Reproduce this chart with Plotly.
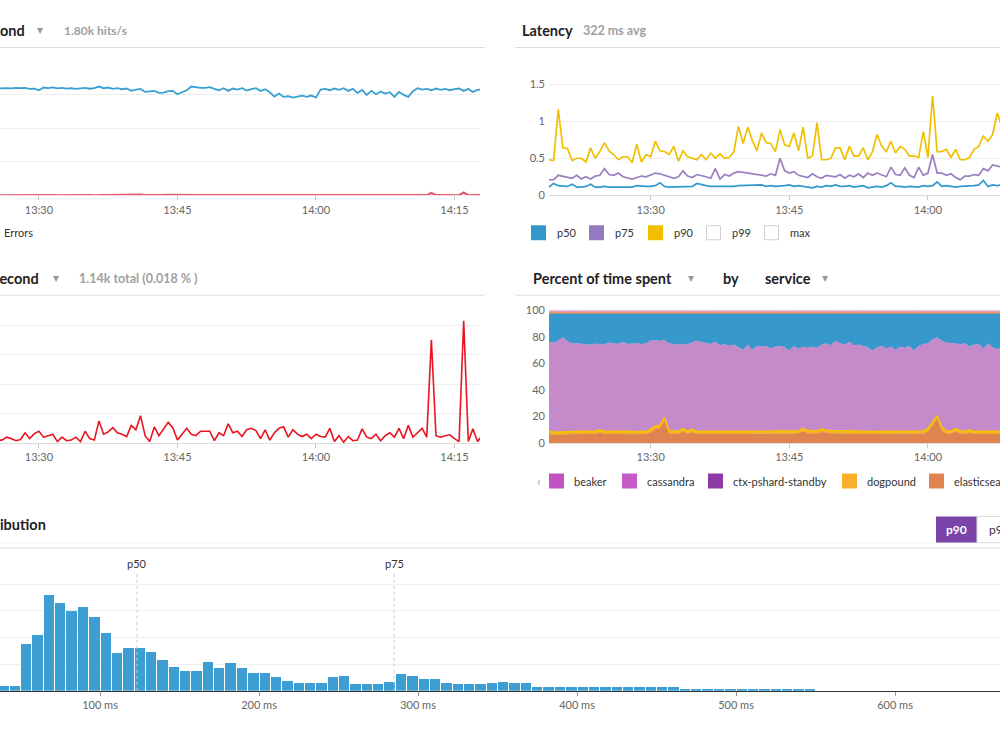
import plotly.graph_objects as go
import pandas as pd

# ---------------- data ----------------
times = pd.date_range("2017-01-01 13:19:00", periods=119, freq="30s")

requests = [1590, 1600, 1585, 1595, 1605, 1590, 1580, 1600, 1595, 1590, 1600, 1585, 1595, 1600,
            1595, 1600, 1598, 1605, 1600, 1603, 1590,
            1595, 1570, 1610, 1600, 1612, 1598, 1605,
            1595, 1602, 1590, 1600, 1605, 1592, 1600, 1625,
            1600, 1610, 1590, 1600, 1585,
            1595, 1560, 1580, 1590,
            1545, 1550, 1560, 1530, 1535, 1555,
            1560, 1510, 1545, 1570, 1625,
            1610, 1605, 1605, 1615, 1590,
            1570, 1600, 1560, 1595, 1580,
            1600, 1565, 1585, 1600, 1560,
            1585, 1540, 1475, 1520,
            1470, 1480, 1460, 1475, 1490, 1470,
            1490, 1460, 1580, 1590,
            1570, 1595, 1575, 1600, 1560, 1590,
            1530, 1575, 1500, 1560, 1510,
            1550, 1520, 1540, 1470, 1545,
            1500, 1470, 1555, 1600, 1580,
            1590, 1570, 1595, 1575, 1590,
            1570, 1585, 1595, 1560, 1590,
            1545, 1575, 1580]

errors = [2, 1, 3, 2, 1, 2, 3, 1, 2, 2, 1, 3, 2, 1,
          1.0, 2.0, 1.5, 0.8, 1.2, 3.5, 1.5, 3.2, 4.0, 2.0,
          2.5, 3.0, 0.5, 2.0, 0.8, 1.0, 2.0, 0.5, 4.0, 1.5,
          1.0, 7.5, 3.0, 3.8, 5.2, 3.5, 3.0, 2.2, 6.0, 4.5,
          9.3, 2.5, 0.5, 5.5, 2.5, 4.8, 7.0, 5.2, 1.0, 3.0,
          5.0, 3.0, 2.5, 4.0, 4.0, 4.0, 0.8, 3.5, 2.5, 6.5,
          3.5, 4.0, 2.2, 4.5, 5.0, 4.2, 1.5, 4.5, 1.0, 3.5,
          5.0, 5.5, 2.0, 4.5, 3.0, 2.2, 3.0, 1.5, 3.0, 2.2,
          2.0, 5.0, 0.5, 2.5, 0.3, 2.2, 0.8, 1.0, 4.8, 2.0,
          1.5, 3.0, 0.8, 2.5, 3.5, 2.0, 5.0, 1.5, 6.0, 2.0,
          3.5, 5.0, 2.0, 35.0, 2.5, 2.0, 2.5, 2.8, 1.5, 0.5,
          41.5, 0.5, 4.8, 0.5, 2.5]

p50 = [0.11, 0.16, 0.13, 0.13, 0.12, 0.15, 0.11, 0.11, 0.12, 0.15,
       0.11, 0.11, 0.12, 0.11, 0.11, 0.12, 0.12, 0.12, 0.11, 0.13,
       0.12, 0.12, 0.12, 0.13, 0.17, 0.12, 0.11, 0.11, 0.12, 0.11,
       0.12, 0.12, 0.16, 0.14, 0.13, 0.12, 0.12, 0.11, 0.11, 0.12,
       0.12, 0.13, 0.13, 0.14, 0.14, 0.13, 0.14, 0.12, 0.13, 0.12,
       0.12, 0.13, 0.14, 0.12, 0.13, 0.12, 0.12, 0.10, 0.12, 0.11,
       0.13, 0.12, 0.14, 0.12, 0.12, 0.13, 0.11, 0.12, 0.13, 0.10,
       0.11, 0.12, 0.11, 0.13, 0.17, 0.12, 0.12, 0.11, 0.12, 0.12,
       0.11, 0.13, 0.12, 0.13, 0.18, 0.12, 0.13, 0.12, 0.11, 0.12,
       0.12, 0.12, 0.13, 0.14, 0.20, 0.12, 0.14, 0.13, 0.14, 0.12,
       0.13, 0.12, 0.14, 0.12, 0.13, 0.12, 0.14, 0.13, 0.12, 0.13,
       0.12, 0.14, 0.13, 0.12, 0.13, 0.14, 0.12, 0.13, 0.12]

p75 = [0.21, 0.21, 0.27, 0.26, 0.25, 0.23, 0.27, 0.22, 0.25, 0.22, 0.26, 0.27,
       0.36,
       0.28, 0.27, 0.30, 0.25, 0.23, 0.22, 0.24, 0.26,
       0.25, 0.27, 0.30, 0.29, 0.27, 0.24, 0.23, 0.25, 0.33, 0.26,
       0.24, 0.28, 0.27, 0.25, 0.23,
       0.36, 0.22, 0.28, 0.26, 0.30,
       0.32, 0.31, 0.29, 0.28, 0.28, 0.27, 0.26, 0.29, 0.27,
       0.50,
       0.33, 0.30, 0.32, 0.27, 0.26, 0.24, 0.29, 0.25, 0.23, 0.27,
       0.26, 0.25, 0.28, 0.23, 0.27, 0.25, 0.29, 0.24, 0.30, 0.27,
       0.30, 0.28, 0.25, 0.38, 0.28, 0.27, 0.37, 0.27, 0.24,
       0.38, 0.27, 0.30,
       0.55,
       0.30, 0.30, 0.27, 0.29, 0.24, 0.21, 0.26, 0.26, 0.28, 0.27, 0.36, 0.33, 0.41, 0.40,
       0.38, 0.34, 0.30, 0.28, 0.30, 0.27, 0.29, 0.26, 0.28, 0.25, 0.30, 0.27, 0.28,
       0.26, 0.29, 0.27, 0.30, 0.26, 0.28, 0.27, 0.29]

p90 = [0.48, 0.47, 1.16, 0.64, 0.63, 0.47, 0.50, 0.50, 0.45, 0.64,
       0.50, 0.59, 0.71, 0.60, 0.55, 0.48, 0.52, 0.52, 0.44, 0.69,
       0.45, 0.55, 0.52, 0.73, 0.60, 0.59, 0.55, 0.66, 0.46, 0.60,
       0.52, 0.50, 0.48, 0.55, 0.48, 0.57, 0.50, 0.56, 0.50, 0.51,
       0.59, 0.93, 0.70, 0.92, 0.74, 0.60, 0.84, 0.71, 0.70, 0.59,
       0.885, 0.68, 0.66, 0.84, 0.60, 0.92, 0.50, 0.53, 0.98, 0.48,
       0.48, 0.50, 0.64, 0.64, 0.48, 0.66, 0.53, 0.53, 0.64, 0.48,
       0.59, 0.82, 0.66, 0.59, 0.73, 0.57, 0.66, 0.62, 0.53, 0.53,
       0.51, 0.86, 0.51, 1.34, 0.59, 0.59, 0.62, 0.51, 0.62, 0.48,
       0.48, 0.51, 0.62, 0.66, 0.80, 0.73, 0.82, 1.11, 0.92, 0.75,
       0.80, 0.62, 0.70, 0.55, 0.60, 0.58, 0.65, 0.52, 0.60, 0.55,
       0.70, 0.58, 0.62, 0.55, 0.60, 0.66, 0.58, 0.62, 0.55]

# percent of time spent, by service (stacked, bottom to top)
elasticsearch = [6.8, 6.5, 6.0, 6.5, 6.8, 6.8, 6.9, 6.8, 6.8, 6.9, 6.8,
                 7.8,
                 6.8, 6.8, 6.9, 6.8, 6.8, 6.8, 6.7, 6.8, 6.8, 6.8,
                 8.0, 10.5, 11.0, 17.0, 7.0, 6.8, 6.8, 8.8, 6.9, 8.3, 6.8,
                 6.8, 6.7, 6.8, 6.8, 6.7, 6.8, 6.8, 6.7, 6.8, 6.8, 6.8, 6.9, 6.8, 6.9, 6.8, 6.9, 7.0, 6.9,
                 7.0, 7.2, 7.0, 7.3, 8.8, 7.3, 7.2, 7.4, 8.3, 7.6, 7.4, 7.3,
                 7.0, 6.9, 6.8, 6.8, 6.8, 6.8, 6.7, 6.8, 6.7, 6.8, 6.8, 6.5, 6.8, 6.8, 6.8, 6.8, 6.8, 6.9,
                 7.0, 8.5, 13.0, 18.2, 9.5, 7.2, 7.0, 8.8, 7.0, 6.9, 7.8, 6.9, 6.8, 6.8, 6.8, 6.8, 6.8,
                 6.8, 6.9, 6.8, 6.7, 6.8, 6.9, 6.8, 6.8, 6.7, 6.8, 6.9, 6.8, 6.8, 6.7, 6.8, 6.8, 6.9,
                 6.8, 6.8, 6.7, 6.8]

dogpound = [2.0, 2.0, 2.0, 2.0, 2.0, 2.0, 2.0, 2.0, 2.0, 2.0,
            2.0, 2.2, 2.0, 2.0, 2.0, 2.0, 2.0, 2.0, 2.0, 2.0,
            2.0, 2.0, 2.2, 2.3, 2.3, 2.3, 2.2, 2.0, 2.0, 2.2,
            2.0, 2.2, 2.0, 2.0, 2.0, 2.0, 2.0, 2.0, 2.0, 2.0,
            2.0, 2.0, 2.0, 2.0, 2.0, 2.0, 2.0, 2.0, 2.0, 2.0,
            2.0, 2.0, 2.0, 2.0, 2.0, 2.2, 2.0, 2.0, 2.0, 2.2,
            2.0, 2.0, 2.0, 2.0, 2.0, 2.0, 2.0, 2.0, 2.0, 2.0,
            2.0, 2.0, 2.0, 2.0, 2.6, 2.0, 2.0, 2.0, 2.0, 2.0,
            2.0, 2.0, 2.2, 2.3, 2.3, 2.2, 2.0, 2.0, 2.2, 2.0,
            2.0, 2.2, 2.0, 2.0, 2.0, 2.0, 2.0, 2.0, 2.0, 2.0,
            2.0, 2.0, 2.0, 2.0, 2.0, 2.0, 2.0, 2.0, 2.0, 2.0,
            2.0, 2.0, 2.0, 2.0, 2.0, 2.0, 2.0, 2.0, 2.0]

cassandra = [66.9, 67.0, 69.0, 70.9, 67.7, 66.2, 66.1, 65.7, 65.6, 65.1,
             66.0, 64.2, 65.6, 66.7, 66.1, 65.7, 67.2, 65.7, 66.1, 66.4,
             65.6, 66.2, 66.8, 64.4, 63.5, 58.2, 65.8, 65.6, 65.2, 63.5,
             65.3, 65.1, 68.2, 67.2, 66.8, 65.7, 67.2, 64.8, 65.6, 64.2,
             65.3, 63.2, 61.2, 65.2, 61.1, 64.2, 63.6, 64.2, 62.1, 63.5,
             64.1, 63.0, 60.3, 64.0, 61.7, 61.5, 62.2, 63.3, 62.1, 63.5,
             65.4, 64.1, 67.7, 66.0, 65.1, 67.2, 64.7, 65.2, 64.2, 63.3,
             60.7, 63.3, 64.2, 62.2, 63.4, 61.2, 63.7, 62.7, 64.2, 60.7,
             64.1, 65.4, 64.3, 62.7, 58.9, 65.3, 66.3, 66.0, 63.5, 65.4,
             66.1, 62.5, 65.1, 65.7, 62.2, 66.2, 63.2, 61.7, 63.2, 62.2,
             64.2, 65.2, 63.2, 64.2, 62.7, 63.2, 65.2, 64.2, 63.7, 62.2,
             64.2, 65.2, 63.2, 64.7, 63.2, 62.7, 64.2, 63.7, 65.2]

web_service = [21.5, 21.7, 20.2, 17.8, 20.7, 22.2, 22.2, 22.7, 22.8, 23.2,
               22.4, 23.0, 22.8, 21.7, 22.2, 22.7, 21.2, 22.7, 22.4, 22.0,
               22.8, 22.2, 20.2, 20.0, 20.4, 19.7, 22.2, 22.8, 23.2, 22.7,
               23.0, 21.6, 20.2, 21.2, 21.7, 22.7, 21.2, 23.7, 22.8, 24.2,
               23.2, 25.2, 27.2, 23.2, 27.2, 24.2, 24.7, 24.2, 26.2, 24.7,
               24.2, 25.2, 27.7, 24.2, 26.2, 24.7, 25.7, 24.7, 25.7, 23.2,
               22.2, 23.7, 20.2, 22.2, 23.2, 21.2, 23.7, 23.2, 24.2, 25.2,
               27.7, 25.2, 24.2, 26.2, 24.7, 27.2, 24.7, 25.7, 24.2, 27.7,
               24.2, 22.8, 22.2, 19.2, 17.8, 20.2, 21.7, 22.2, 22.7, 22.8,
               22.2, 24.7, 23.2, 22.7, 26.2, 22.2, 25.2, 26.7, 25.2, 26.2,
               24.2, 23.2, 25.2, 24.2, 25.7, 25.2, 23.2, 24.2, 24.7, 26.2,
               24.2, 23.2, 25.2, 23.7, 25.2, 25.7, 24.2, 24.7, 23.2]

misc_service = [1.6, 1.5, 1.6, 1.7, 1.6, 1.5, 1.6, 1.6, 1.7, 1.6,
                1.5, 1.6, 1.6, 1.7, 1.6, 1.5, 1.6, 1.6, 1.6, 1.7,
                1.6, 1.5, 1.6, 1.6, 1.7, 1.6, 1.5, 1.6, 1.6, 1.6,
                1.7, 1.6, 1.5, 1.6, 1.6, 1.7, 1.6, 1.5, 1.6, 1.6,
                1.6, 1.7, 1.6, 1.5, 1.6, 1.6, 1.7, 1.6, 1.5, 1.6,
                1.6, 1.6, 1.7, 1.6, 1.5, 1.6, 1.6, 1.7, 1.6, 1.5,
                1.6, 1.6, 1.6, 1.7, 1.6, 1.5, 1.6, 1.6, 1.7, 1.6,
                1.5, 1.6, 1.6, 1.6, 1.7, 1.6, 1.5, 1.6, 1.6, 1.7,
                1.6, 1.5, 1.6, 1.6, 1.6, 1.7, 1.6, 1.5, 1.6, 1.6,
                1.7, 1.6, 1.5, 1.6, 1.6, 1.6, 1.7, 1.6, 1.5, 1.6,
                1.6, 1.7, 1.6, 1.5, 1.6, 1.6, 1.6, 1.7, 1.6, 1.5,
                1.6, 1.6, 1.7, 1.6, 1.5, 1.6, 1.6, 1.6, 1.7]

beaker = [1.2, 1.3, 1.2, 1.1, 1.2, 1.3, 1.2, 1.2, 1.1, 1.2,
          1.3, 1.2, 1.2, 1.1, 1.2, 1.3, 1.2, 1.2, 1.2, 1.1,
          1.2, 1.3, 1.2, 1.2, 1.1, 1.2, 1.3, 1.2, 1.2, 1.2,
          1.1, 1.2, 1.3, 1.2, 1.2, 1.1, 1.2, 1.3, 1.2, 1.2,
          1.2, 1.1, 1.2, 1.3, 1.2, 1.2, 1.1, 1.2, 1.3, 1.2,
          1.2, 1.2, 1.1, 1.2, 1.3, 1.2, 1.2, 1.1, 1.2, 1.3,
          1.2, 1.2, 1.2, 1.1, 1.2, 1.3, 1.2, 1.2, 1.1, 1.2,
          1.3, 1.2, 1.2, 1.2, 1.1, 1.2, 1.3, 1.2, 1.2, 1.1,
          1.2, 1.3, 1.2, 1.2, 1.2, 1.1, 1.2, 1.3, 1.2, 1.2,
          1.1, 1.2, 1.3, 1.2, 1.2, 1.2, 1.1, 1.2, 1.3, 1.2,
          1.2, 1.1, 1.2, 1.3, 1.2, 1.2, 1.2, 1.1, 1.2, 1.3,
          1.2, 1.2, 1.1, 1.2, 1.3, 1.2, 1.2, 1.2, 1.1]

# latency distribution histogram
bin_start_ms = 35.714
bin_width_ms = 100 / 14
hist_counts = [9, 9, 87, 105, 180, 165, 150, 157, 139, 109, 70, 80, 80, 72, 57, 45, 36, 36,
               53, 42, 52, 42, 34, 34, 25, 19, 15, 15, 15, 25, 27, 13, 13, 13, 16, 31, 27,
               22, 22, 15, 12, 12, 12, 14, 16, 15, 14,
               6, 6, 6, 6, 6, 6, 6, 6, 6, 6, 6, 6, 6,
               4,
               2, 2, 2, 2, 2, 2, 2, 2, 2, 2, 2]
percentile_names = ["p50", "p75"]
percentile_ms = [123.3, 284.9]
time_ticks = ["13:30", "13:45", "14:00", "14:15"]
hist_ticks = [100, 200, 300, 400, 500, 600]

# ---------------- figure ----------------
FONT = "Lato"
W, H = 1000, 750
# the photographed page comes out slightly compressed vertically; compensate
V_OFF, V_SCALE = 7.5, 0.9837


def X(px):
    return px / W


def Y(py):
    return 1 - ((py - V_OFF) / V_SCALE) / H


bin_centers = [bin_start_ms + (k + 0.5) * bin_width_ms for k in range(len(hist_counts))]
tick_times = ["2017-01-01 " + t for t in time_ticks]

fig = go.Figure()

# Requests panel
fig.add_trace(go.Scatter(x=times, y=requests, mode="lines", name="Requests",
                         line=dict(color="#3a9fd1", width=1.8), xaxis="x", yaxis="y"))
fig.add_trace(go.Scatter(x=times, y=errors, mode="lines", name="Errors",
                         line=dict(color="#e2586c", width=2.2), xaxis="x", yaxis="y"))
# Latency panel
fig.add_trace(go.Scatter(x=times, y=p50, mode="lines", name="p50",
                         line=dict(color="#3399cc", width=1.7), xaxis="x2", yaxis="y2"))
fig.add_trace(go.Scatter(x=times, y=p75, mode="lines", name="p75",
                         line=dict(color="#9a7fc2", width=1.7), xaxis="x2", yaxis="y2"))
fig.add_trace(go.Scatter(x=times, y=p90, mode="lines", name="p90",
                         line=dict(color="#f0c000", width=1.7), xaxis="x2", yaxis="y2"))
# Errors panel
fig.add_trace(go.Scatter(x=times, y=errors, mode="lines", name="Errors",
                         line=dict(color="#e8141f", width=1.6), xaxis="x3", yaxis="y3"))
# Percent of time spent
area_series = [
    ("elasticsearch", elasticsearch, "#e0844f", "#e0844f", 0.5),
    ("dogpound", dogpound, "#f6b61c", "#f8c000", 1.6),
    ("cassandra", cassandra, "#c48ac9", "#c48ac9", 0.5),
    ("web", web_service, "#3698cc", "#3698cc", 0.5),
    ("misc", misc_service, "#eb9a6c", "#eb9a6c", 0.5),
    ("beaker", beaker, "#d9a0d6", "#d9a0d6", 0.5),
]
for name, vals, fillc, linec, lw in area_series:
    fig.add_trace(go.Scatter(x=times, y=vals, mode="lines", name=name, stackgroup="one",
                             fillcolor=fillc, line=dict(color=linec, width=lw),
                             xaxis="x4", yaxis="y4"))
# Histogram
fig.add_trace(go.Bar(x=bin_centers, y=hist_counts, width=bin_width_ms * 0.91,
                     marker=dict(color="#3d9ed4", line=dict(width=0)),
                     xaxis="x5", yaxis="y5", name="latency"))

tickfont = dict(family=FONT, size=11, color="#666666")
time_axis = dict(type="date", tickvals=tick_times, ticktext=time_ticks, ticks="outside",
                 ticklen=4, tickcolor="#c8c8c8", showgrid=False, zeroline=False,
                 tickfont=tickfont)

fig.update_layout(
    width=W, height=H, margin=dict(l=0, r=0, t=0, b=0, pad=0),
    paper_bgcolor="white", plot_bgcolor="white", showlegend=False,
    font=dict(family=FONT),
    xaxis=dict(time_axis, domain=[0, 0.48], anchor="y",
               range=["2017-01-01 13:25:47", "2017-01-01 14:17:46"], showline=False),
    yaxis=dict(domain=[Y(196), Y(62)], anchor="x", range=[0, 2000], dtick=500,
               showgrid=True, gridcolor="#eeeeee", zeroline=False, showticklabels=False),
    xaxis2=dict(time_axis, domain=[0.549, 1.0], anchor="y2",
                range=["2017-01-01 13:19:00", "2017-01-01 14:07:48"],
                showline=True, linecolor="#dddddd"),
    yaxis2=dict(domain=[Y(196), Y(77.3)], anchor="x2", range=[0, 1.6],
                tickvals=[0, 0.5, 1, 1.5], ticktext=["0", "0.5", "1", "1.5"],
                showgrid=True, gridcolor="#eeeeee", zeroline=False, tickfont=tickfont,
                ticklabelstandoff=3),
    xaxis3=dict(time_axis, domain=[0, 0.48], anchor="y3",
                range=["2017-01-01 13:25:47", "2017-01-01 14:17:46"],
                showline=True, linecolor="#dddddd"),
    yaxis3=dict(domain=[Y(444), Y(320.1)], anchor="x3", range=[0, 42], dtick=10,
                showgrid=True, gridcolor="#eeeeee", zeroline=False, showticklabels=False),
    xaxis4=dict(time_axis, domain=[0.549, 1.0], anchor="y4",
                range=["2017-01-01 13:19:00", "2017-01-01 14:07:48"],
                showline=True, linecolor="#dddddd"),
    yaxis4=dict(domain=[Y(444), Y(311)], anchor="x4", range=[0, 100],
                tickvals=[0, 20, 40, 60, 80, 100], showgrid=False, zeroline=False,
                tickfont=tickfont, ticklabelstandoff=3),
    xaxis5=dict(domain=[0, 1], anchor="y5", range=[37.1, 666], tickvals=hist_ticks,
                ticktext=[f"{v} ms" for v in hist_ticks], ticks="outside", ticklen=4,
                tickcolor="#999999", showline=True, linecolor="#333333", linewidth=1.2,
                showgrid=False, zeroline=False, tickfont=tickfont),
    yaxis5=dict(domain=[Y(692), Y(561.2)], anchor="x5", range=[0, 245],
                tickvals=[50, 100, 150, 200], showgrid=True, gridcolor="#eeeeee",
                zeroline=False, showticklabels=False),
    bargap=0,
)

shapes = []
annotations = []


def hline(x0, x1, y, color="#dcdcdc", width=1):
    shapes.append(dict(type="line", xref="paper", yref="paper", x0=X(x0), x1=X(x1),
                       y0=Y(y), y1=Y(y), line=dict(color=color, width=width)))


def rect(x0, y0, x1, y1, fill, line="rgba(0,0,0,0)", lw=1):
    shapes.append(dict(type="rect", xref="paper", yref="paper", x0=X(x0), x1=X(x1),
                       y0=Y(y1), y1=Y(y0), fillcolor=fill, line=dict(color=line, width=lw)))


def text(px, py, s, size=11, color="#333333", anchor="left", bold=False):
    annotations.append(dict(xref="paper", yref="paper", x=X(px), y=Y(py), text=s,
                            showarrow=False, xanchor=anchor, yanchor="middle",
                            font=dict(family=FONT, size=size, color=color,
                                      weight="bold" if bold else "normal")))


# header underlines
hline(-5, 485, 48)
hline(515, 1005, 48)
hline(-5, 485, 296)
hline(515, 1005, 296)
hline(-5, 1005, 544, color="#efefef")
hline(-5, 1005, 549)

# headers
text(27, 31, "Requests per second", 14.5, "#222222", "right", True)
text(40, 30, "▾", 12, "#999999", "center")
text(62, 31, "1.80k hits/s", 12, "#a0a0a0", "left", True)
text(520, 31, "Latency", 14.5, "#222222", "left", True)
text(581, 31, "322 ms avg", 12.5, "#a0a0a0", "left", True)

text(41, 279, "Errors per second", 14.5, "#222222", "right", True)
text(56, 278, "▾", 12, "#999999", "center")
text(77, 279, "1.14k total (0.018 % )", 12.5, "#a0a0a0", "left", True)
text(531, 279, "Percent of time spent", 14.5, "#222222", "left", True)
text(691, 278, "▾", 12, "#999999", "center")
text(721, 279, "by", 14.5, "#222222", "left", True)
text(763, 279, "service", 14.5, "#222222", "left", True)
text(825, 278, "▾", 12, "#999999", "center")

text(48, 526, "Latency distribution", 14.5, "#222222", "right", True)

# legends
text(2, 233, "Errors", 11, "#333333")
lat_leg = [("p50", "#3399cc", 531), ("p75", "#9479bf", 589), ("p90", "#f0bf00", 648),
           ("p99", None, 706), ("max", None, 764)]
for name, col, x0 in lat_leg:
    if col:
        rect(x0, 226, x0 + 15, 241, col)
    else:
        rect(x0 + 0.5, 226.5, x0 + 14.5, 240.5, "white", "#d0d0d0", 1)
    text(x0 + 24, 233, name, 11, "#333333")

text(539, 482, "‹", 13, "#aaaaaa", "center")
svc_leg = [("beaker", "#c253c2", 549), ("cassandra", "#c65ac6", 622),
           ("ctx-pshard-standby", "#8e3aa5", 708), ("dogpound", "#f9ae2e", 842),
           ("elasticsearch", "#e0834e", 929)]
for name, col, x0 in svc_leg:
    rect(x0, 474.5, x0 + 15, 489.5, col)
    text(x0 + 23, 482, name, 11, "#333333")

# histogram percentile markers
for name, ms in zip(percentile_names, percentile_ms):
    shapes.append(dict(type="line", xref="x5", yref="paper", x0=ms, x1=ms,
                       y0=Y(692), y1=Y(574),
                       line=dict(color="#c8c8c8", width=1, dash="3px,3px")))
    annotations.append(dict(xref="x5", yref="paper", x=ms, y=Y(565), text=name,
                            showarrow=False, xanchor="center", yanchor="middle",
                            font=dict(family=FONT, size=11, color="#333333")))

# percentile toggle buttons
rect(936, 517.5, 977, 543.5, "#7a44a8")
rect(977, 517.5, 1010, 543.5, "white", "#dddddd", 1)
text(956.5, 530.5, "p90", 12, "white", "center", True)
text(987, 530.5, "p99", 12, "#333333", "left")

fig.update_layout(shapes=shapes, annotations=annotations)

fig.write_html("out.html", config={"displayModeBar": False})
